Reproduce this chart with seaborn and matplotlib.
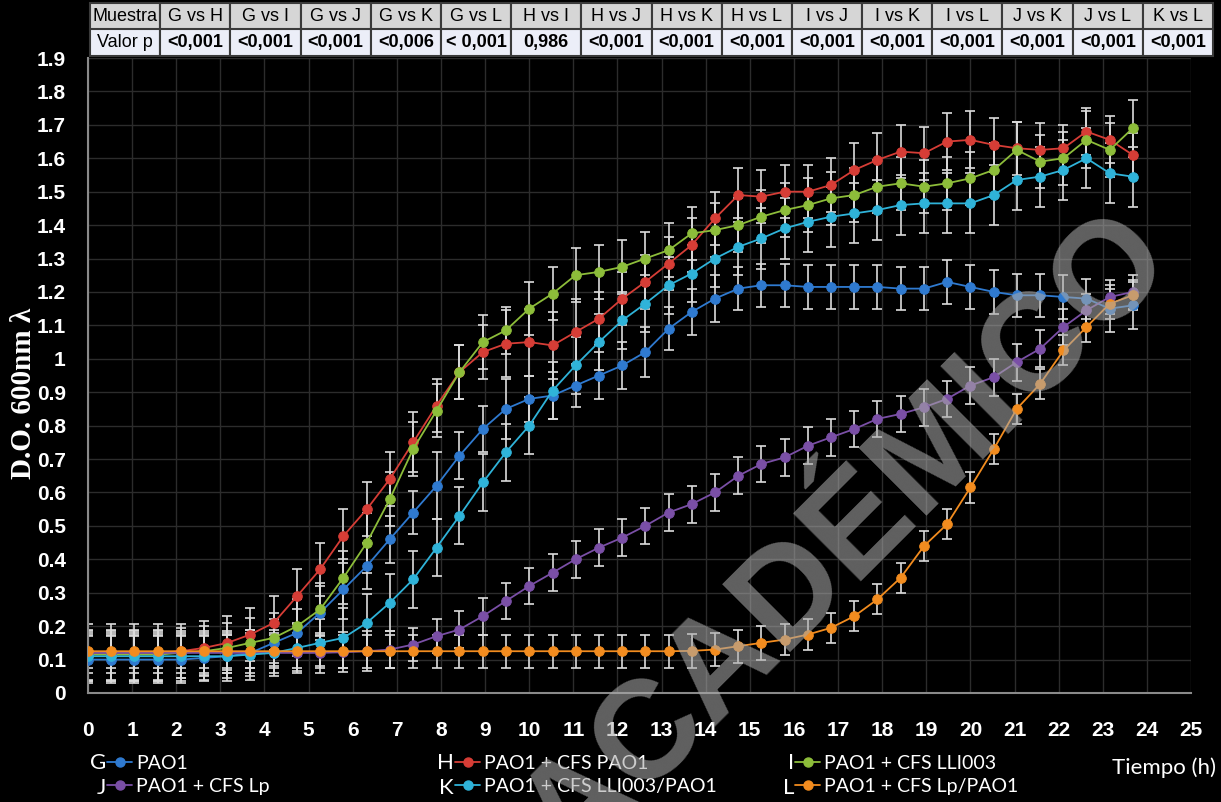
import numpy as np
import pandas as pd
import matplotlib
matplotlib.use('Agg')
import matplotlib.pyplot as plt
from matplotlib.lines import Line2D
import seaborn as sns

# tiempo (h), one reading every ~31.6 min
tiempo = [0.00, 0.53, 1.05, 1.58, 2.11, 2.63, 3.16, 3.68, 4.21, 4.74,
          5.26, 5.79, 6.32, 6.84, 7.37, 7.90, 8.42, 8.95, 9.47, 10.00,
          10.53, 11.05, 11.58, 12.11, 12.63, 13.16, 13.68, 14.21, 14.74, 15.26,
          15.79, 16.32, 16.84, 17.37, 17.89, 18.42, 18.95, 19.47, 20.00, 20.53,
          21.05, 21.58, 22.11, 22.63, 23.16, 23.68]

G = [0.10, 0.10, 0.10, 0.10, 0.10, 0.105, 0.11, 0.12, 0.15, 0.18,
     0.24, 0.31, 0.38, 0.46, 0.54, 0.62, 0.71, 0.79, 0.85, 0.88,
     0.89, 0.92, 0.95, 0.98, 1.02, 1.09, 1.14, 1.18, 1.21, 1.22,
     1.22, 1.215, 1.215, 1.215, 1.215, 1.21, 1.21, 1.23, 1.215, 1.20,
     1.19, 1.19, 1.185, 1.18, 1.15, 1.16]
H = [0.12, 0.12, 0.12, 0.12, 0.125, 0.135, 0.15, 0.175, 0.21, 0.29,
     0.37, 0.47, 0.55, 0.64, 0.75, 0.86, 0.96, 1.02, 1.045, 1.05,
     1.04, 1.08, 1.12, 1.18, 1.23, 1.285, 1.34, 1.42, 1.49, 1.485,
     1.50, 1.50, 1.52, 1.565, 1.595, 1.62, 1.615, 1.65, 1.655, 1.64,
     1.63, 1.625, 1.63, 1.68, 1.655, 1.61]
I = [0.115, 0.115, 0.115, 0.115, 0.12, 0.125, 0.135, 0.15, 0.165, 0.20,
     0.25, 0.345, 0.45, 0.58, 0.73, 0.845, 0.96, 1.05, 1.085, 1.15,
     1.195, 1.25, 1.26, 1.275, 1.30, 1.325, 1.375, 1.385, 1.40, 1.425,
     1.445, 1.46, 1.48, 1.49, 1.515, 1.525, 1.515, 1.525, 1.54, 1.565,
     1.625, 1.59, 1.60, 1.655, 1.625, 1.69]
J = [0.12, 0.12, 0.12, 0.12, 0.12, 0.12, 0.12, 0.12, 0.12, 0.12,
     0.12, 0.122, 0.125, 0.13, 0.145, 0.17, 0.19, 0.23, 0.275, 0.32,
     0.36, 0.40, 0.435, 0.465, 0.50, 0.54, 0.565, 0.60, 0.65, 0.685,
     0.705, 0.74, 0.765, 0.79, 0.82, 0.835, 0.855, 0.88, 0.92, 0.945,
     0.99, 1.03, 1.095, 1.145, 1.185, 1.20]
K = [0.11, 0.11, 0.11, 0.11, 0.11, 0.11, 0.11, 0.115, 0.12, 0.135,
     0.15, 0.165, 0.21, 0.27, 0.34, 0.435, 0.53, 0.63, 0.72, 0.80,
     0.905, 0.98, 1.05, 1.115, 1.165, 1.22, 1.255, 1.30, 1.335, 1.36,
     1.39, 1.41, 1.425, 1.435, 1.445, 1.46, 1.465, 1.465, 1.465, 1.49,
     1.535, 1.545, 1.565, 1.60, 1.555, 1.545]
L = [0.125, 0.125, 0.125, 0.125, 0.125, 0.125, 0.125, 0.125, 0.125, 0.125,
     0.125, 0.125, 0.125, 0.125, 0.125, 0.125, 0.125, 0.125, 0.125, 0.125,
     0.125, 0.125, 0.125, 0.125, 0.125, 0.125, 0.126, 0.13, 0.14, 0.15,
     0.16, 0.175, 0.195, 0.23, 0.28, 0.345, 0.44, 0.505, 0.615, 0.73,
     0.85, 0.925, 1.025, 1.095, 1.165, 1.19]

# desviaciones (barras de error)
G_err = [0.07, 0.07, 0.07, 0.07, 0.07, 0.065, 0.065, 0.07, 0.07, 0.07,
         0.08, 0.09, 0.07, 0.07, 0.065, 0.10, 0.07, 0.07, 0.09, 0.07,
         0.07, 0.065, 0.07, 0.07, 0.075, 0.065, 0.07, 0.07, 0.065, 0.065,
         0.065, 0.065, 0.065, 0.065, 0.065, 0.065, 0.065, 0.065, 0.065, 0.065,
         0.065, 0.065, 0.065, 0.06, 0.07, 0.07]
H_err = [0.085, 0.085, 0.085, 0.085, 0.08, 0.08, 0.08, 0.08, 0.08, 0.08,
         0.08, 0.08, 0.08, 0.08, 0.09, 0.08, 0.08, 0.08, 0.10, 0.10,
         0.10, 0.10, 0.08, 0.08, 0.08, 0.08, 0.08, 0.08, 0.08, 0.08,
         0.08, 0.08, 0.08, 0.08, 0.08, 0.08, 0.08, 0.085, 0.085, 0.08,
         0.08, 0.08, 0.07, 0.07, 0.07, 0.065]
I_err = [0.075, 0.075, 0.075, 0.075, 0.075, 0.075, 0.075, 0.075, 0.075, 0.08,
         0.08, 0.08, 0.09, 0.08, 0.08, 0.08, 0.08, 0.08, 0.07, 0.08,
         0.08, 0.08, 0.08, 0.08, 0.08, 0.08, 0.08, 0.08, 0.08, 0.08,
         0.08, 0.08, 0.08, 0.08, 0.08, 0.08, 0.08, 0.08, 0.08, 0.08,
         0.085, 0.08, 0.08, 0.085, 0.08, 0.085]
J_err = [0.06, 0.06, 0.06, 0.06, 0.06, 0.06, 0.06, 0.06, 0.06, 0.06,
         0.06, 0.06, 0.06, 0.055, 0.05, 0.05, 0.055, 0.055, 0.055, 0.055,
         0.055, 0.055, 0.055, 0.055, 0.055, 0.055, 0.055, 0.055, 0.055, 0.055,
         0.055, 0.055, 0.055, 0.055, 0.055, 0.055, 0.055, 0.055, 0.055, 0.055,
         0.055, 0.055, 0.055, 0.05, 0.05, 0.05]
K_err = [0.075, 0.075, 0.075, 0.075, 0.075, 0.075, 0.075, 0.075, 0.07, 0.07,
         0.07, 0.09, 0.085, 0.085, 0.085, 0.085, 0.085, 0.085, 0.085, 0.085,
         0.085, 0.085, 0.085, 0.085, 0.085, 0.085, 0.085, 0.085, 0.085, 0.09,
         0.09, 0.09, 0.09, 0.09, 0.09, 0.09, 0.09, 0.09, 0.09, 0.09,
         0.09, 0.09, 0.09, 0.09, 0.09, 0.09]
L_err = [0.05, 0.05, 0.05, 0.05, 0.05, 0.05, 0.05, 0.05, 0.05, 0.05,
         0.05, 0.05, 0.05, 0.05, 0.05, 0.05, 0.05, 0.05, 0.05, 0.05,
         0.05, 0.05, 0.05, 0.05, 0.05, 0.05, 0.05, 0.05, 0.05, 0.05,
         0.045, 0.045, 0.045, 0.045, 0.045, 0.045, 0.045, 0.045, 0.045, 0.045,
         0.045, 0.045, 0.045, 0.045, 0.045, 0.045]

letras = ['G', 'H', 'I', 'J', 'K', 'L']
nombres = ['PAO1', 'PAO1 + CFS PAO1', 'PAO1 + CFS LLI003',
           'PAO1 + CFS Lp', 'PAO1 + CFS LLI003/PAO1', 'PAO1 + CFS Lp/PAO1']
colores = ['#2f7ad0', '#d63d36', '#8dbd3a', '#7a4fa6', '#2fb3d9', '#f28c1f']
valores = [G, H, I, J, K, L]
errores = [G_err, H_err, I_err, J_err, K_err, L_err]

muestras = ['Muestra', 'G vs H', 'G vs I', 'G vs J', 'G vs K', 'G vs L', 'H vs I',
            'H vs J', 'H vs K', 'H vs L', 'I vs J', 'I vs K', 'I vs L',
            'J vs K', 'J vs L', 'K vs L']
valor_p = ['Valor p', '<0,001', '<0,001', '<0,001', '<0,006', '< 0,001', '0,986',
           '<0,001', '<0,001', '<0,001', '<0,001', '<0,001', '<0,001',
           '<0,001', '<0,001', '<0,001']

df = pd.concat([pd.DataFrame({'tiempo': tiempo, 'od': v, 'serie': s})
                for s, v in zip(letras, valores)], ignore_index=True)

sns.set_theme(style='dark')
plt.rcParams['font.family'] = ['Liberation Sans', 'DejaVu Sans']
legfont = ['Lato', 'Liberation Sans', 'DejaVu Sans']

W, Hh = 1221, 802
fig = plt.figure(figsize=(W / 100, Hh / 100), dpi=100, facecolor='black')
ax = fig.add_axes([88 / W, 1 - 693 / Hh, (1191 - 88) / W, (693 - 58) / Hh])
ax.set_facecolor('black')

# error bars first, then lines with the sphere-like markers
for v, e in zip(valores, errores):
    ax.errorbar(tiempo, v, yerr=e, fmt='none', ecolor='#dcdcdc', elinewidth=1.2,
                capsize=3.5, capthick=1.2, zorder=2)
n_before = len(ax.get_lines())

sns.lineplot(data=df, x='tiempo', y='od', hue='serie',
             palette=dict(zip(letras, colores)), marker='o', markersize=7,
             markeredgewidth=0.6, linewidth=1.3, errorbar=None,
             legend=False, ax=ax, zorder=3)
for ln, c in zip(ax.get_lines()[n_before:], colores):
    ln.set_markeredgecolor(c)

ax.set_xlim(0, 25)
ax.set_ylim(0, 1.9)
ax.set_xticks(range(0, 26))
yt = [round(0.1 * k, 1) for k in range(20)]
ax.set_yticks(yt)
ax.set_yticklabels([f'{t:g}' for t in yt])
ax.set_xlabel('')
ax.set_ylabel('')
ax.grid(True, color='#2c2c2c', linewidth=1)
ax.tick_params(length=0, colors='white', labelsize=15)
ax.tick_params(axis='x', pad=20)
ax.tick_params(axis='y', pad=16)
for lab in ax.get_xticklabels() + ax.get_yticklabels():
    lab.set_fontweight('bold')
for s in ['top', 'right']:
    ax.spines[s].set_visible(False)
for s in ['left', 'bottom']:
    ax.spines[s].set_color('#8a8a8a')
    ax.spines[s].set_linewidth(1.5)

fig.text(24 / W, 1 - 393 / Hh, 'D.O. 600nm λ', rotation=90, color='white',
         fontsize=21, fontweight='bold', family=['Liberation Serif', 'DejaVu Serif'],
         ha='center', va='center')
fig.text(1216 / W, 1 - 768 / Hh, 'Tiempo (h)', color='white', fontsize=16,
         family=legfont, ha='right', va='center')

# legend: three columns, letter in front of each entry
col_x = [107, 455, 795]
for c in range(3):
    idx = [c, c + 3]
    handles = [Line2D([], [], color=colores[i], marker='o', markersize=6.5,
                      linewidth=1.3) for i in idx]
    leg = fig.legend(handles, [nombres[i] for i in idx], loc='center left',
                     bbox_to_anchor=(col_x[c] / W, 1 - 775 / Hh),
                     frameon=False, handlelength=1.3,
                     handletextpad=0.2, labelspacing=0.3, borderpad=0,
                     borderaxespad=0, prop={'family': legfont, 'size': 14})
    for t in leg.get_texts():
        t.set_color('white')
    for r, i in enumerate(idx):
        fig.text((col_x[c] - 1) / W, 1 - (763 + 25 * r) / Hh, letras[i], color='white',
                 fontsize=16, family=legfont, ha='right', va='center')

# p-value table on top
axt = fig.add_axes([90 / W, 1 - 56 / Hh, (1213 - 90) / W, 53 / Hh])
axt.axis('off')
tab = axt.table(cellText=[muestras, valor_p], cellLoc='center', bbox=[0, 0, 1, 1])
tab.auto_set_font_size(False)
for (r, cc), cell in tab.get_celld().items():
    cell.set_facecolor('#d6d6d6' if r == 0 else '#eceef8')
    cell.set_edgecolor('#3a3a3a')
    cell.set_linewidth(1.5)
    cell.get_text().set_fontsize(13)
    cell.get_text().set_color('black')
    if r == 1 and cc > 0:
        cell.get_text().set_fontweight('bold')

# watermark (runs off the bottom edge, as in the original)
fig.text(848 / W, 1 - 540 / Hh, 'ACADÉMICO', rotation=45, rotation_mode='anchor',
         fontsize=100, fontweight='bold', color='#a8a8a8', alpha=0.58,
         ha='center', va='center', zorder=10)

fig.savefig('out.png', dpi=100, facecolor='black')
